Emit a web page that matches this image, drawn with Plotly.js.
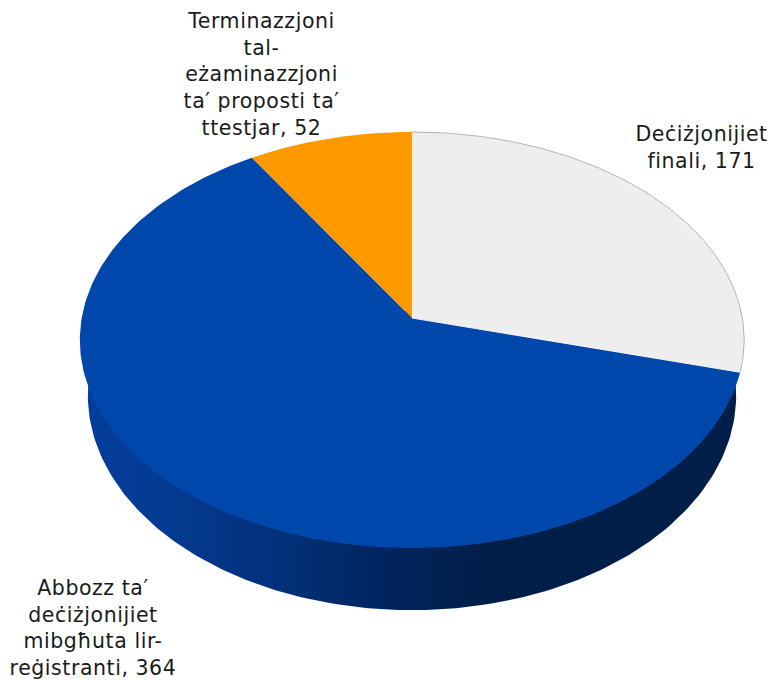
<!DOCTYPE html>
<html>
<head>
<meta charset="utf-8">
<script src="https://cdn.plot.ly/plotly-3.0.1.min.js"></script>
<style>
html,body{margin:0;padding:0;background:#fff}
#chart{width:769px;height:681px}
#chart .annotation-text{letter-spacing:.55px}
</style>
</head>
<body>
<div id="chart"></div>
<script>
// Data, clockwise from twelve o'clock
const categories = [
  "Deċiżjonijiet<br>finali",
  "Abbozz ta′<br>deċiżjonijiet<br>mibgħuta lir-<br>reġistranti",
  "Terminazzjoni<br>tal-<br>eżaminazzjoni<br>ta′ proposti ta′<br>ttestjar"
];
const values = [171, 364, 52];
const colors = ["#EEEEEE", "#0047AB", "#FF9900"];
const labelX = [701, 93, 261];
const labelY = [147, 628, 74];

// Perspective view of a flat disc (tilted circle -> off-centre ellipse)
const apexX = 412, apexY = 318, radX = 330.3, radY = 205.7, tilt = 0.1058;
const rimApexY = 372.3, rimScaleX = 0.976, rimScaleY = 1.034;

function project(deg, cy, sx, sy) {
  const t = deg * Math.PI / 180, u = Math.sin(t), v = Math.cos(t), d = 1 + tilt * v;
  return [apexX + sx * radX * u / d, cy - sy * radY * v / d];
}
function arc(from, to, cy, sx, sy) {
  const n = Math.max(2, Math.ceil(Math.abs(to - from))), out = [];
  for (let i = 0; i <= n; i++) out.push(project(from + (to - from) * i / n, cy, sx, sy));
  return out;
}

const total = values.reduce((a, b) => a + b, 0);
const traces = [];

// Side wall: lower rim joined to the widest points of the top face
const rim = arc(88, 272, rimApexY, rimScaleX, rimScaleY);
const upper = [project(272, apexY, 1, 1), project(88, apexY, 1, 1)];
const wall = rim.concat(upper);
wall.push(rim[0]);
traces.push({
  type: "scatter", mode: "lines", hoverinfo: "skip", showlegend: false,
  x: wall.map(p => p[0]), y: wall.map(p => p[1]),
  fill: "toself", line: {width: 0},
  fillgradient: {
    type: "horizontal",
    colorscale: [[0, "#043E9C"], [0.14, "#043A90"], [0.3, "#03307A"], [0.45, "#012560"], [0.62, "#011E48"], [1, "#011E48"]]
  }
});

// Top face
let start = 0;
const ends = [];
values.forEach((val, i) => {
  const end = start + val / total * 360;
  ends.push(end);
  const pts = [[apexX, apexY]].concat(arc(start, end, apexY, 1, 1));
  pts.push([apexX, apexY]);
  traces.push({
    type: "scatter", mode: "lines", name: categories[i].replace(/<br>/g, " "),
    text: String(val), hoverinfo: "name+text", showlegend: false,
    x: pts.map(p => p[0]), y: pts.map(p => p[1]),
    fill: "toself", fillcolor: colors[i], line: {width: 0}
  });
  start = end;
});

// Thin grey edge on the pale slice and a light seam where it meets the blue one
const edge = arc(0, ends[0], apexY, 1, 1);
traces.push({
  type: "scatter", mode: "lines", hoverinfo: "skip", showlegend: false,
  x: edge.map(p => p[0]), y: edge.map(p => p[1]),
  line: {width: 1, color: "#B4B4B4"}
});
const seamEnd = project(ends[0], apexY, 1, 1);
traces.push({
  type: "scatter", mode: "lines", hoverinfo: "skip", showlegend: false,
  x: [apexX, seamEnd[0]], y: [apexY, seamEnd[1]],
  line: {width: 1, color: "#F8F8F8"}
});

const annotations = values.map((val, i) => ({
  xref: "x", yref: "y", x: labelX[i], y: labelY[i],
  text: categories[i] + ", " + val,
  showarrow: false, align: "center", xanchor: "center", yanchor: "middle",
  font: {family: "DejaVu Sans, Verdana, sans-serif", size: 20.5, color: "#1a1a1a"}
}));

const layout = {
  width: 769, height: 681,
  margin: {l: 0, r: 0, t: 0, b: 0},
  paper_bgcolor: "#ffffff", plot_bgcolor: "#ffffff",
  showlegend: false,
  xaxis: {range: [0, 769], visible: false, fixedrange: true},
  yaxis: {range: [681, 0], visible: false, fixedrange: true},
  annotations
};
Plotly.newPlot("chart", traces, layout, {displayModeBar: false, staticPlot: true});
</script>
</body>
</html>
